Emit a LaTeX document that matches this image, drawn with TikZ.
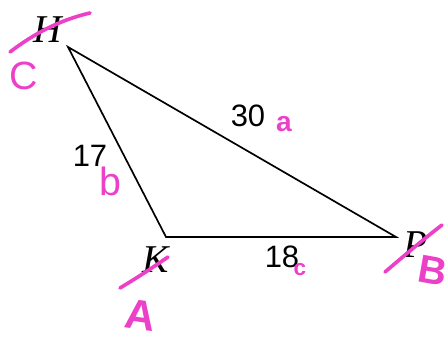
\documentclass[tikz,border=0pt]{standalone}
\usepackage{fontspec}
\setsansfont{Liberation Sans}
\newfontfamily\vertfont{Liberation Serif}
\usepackage{xcolor}
\usetikzlibrary{positioning,calc}
\definecolor{pen}{RGB}{236,64,200}

\begin{document}
\begin{tikzpicture}[x=0.025cm, y=-0.025cm,
  vlab/.style={font=\vertfont\itshape\fontsize{28}{28}\selectfont},
  slab/.style={font=\sffamily\fontsize{22}{22}\selectfont},
  hand/.style={pen, inner sep=0pt},
  penmark/.style={pen, line width=2.6pt, line cap=round}]
  \useasboundingbox (0,0) rectangle (448,339);
  \coordinate (H) at (68,47);
  \coordinate (K) at (166,237);
  \coordinate (P) at (396,237);
  \draw[line width=1.2pt, line join=miter] (H)--(K)--(P)--cycle;

  \node[vlab] (hl) at (48,30) {H};
  \node[vlab] (kl) at (156,260) {K};
  \node[vlab] (pl) at (416,245) {P};

  \node[slab] (hp) at (248,116) {30};
  \node[slab] (hk) at (90,156) {17};
  \node[slab] (kp) at (282,257) {18};

  % pen marks
  \draw[penmark] (10,52) .. controls (35,33) and (60,20) .. (90,13);
  \draw[penmark] (120,288) .. controls (140,276) and (155,266) .. (168,257);
  \draw[penmark] (385,272) .. controls (405,255) and (425,238) .. (442,225);
  \node[hand, font=\sffamily\fontsize{28}{28}\selectfont] (cc) at (24,76) {C};
  \node[hand, font=\sffamily\bfseries\fontsize{30}{30}\selectfont, rotate=-8] (ca) at (141,315) {A};
  \node[hand, font=\sffamily\bfseries\fontsize{28}{28}\selectfont, rotate=-10] (cb) at (433,271) {B};
  \node[hand, font=\sffamily\bfseries\fontsize{20}{20}\selectfont] (sa) at (284,124) {a};
  \node[hand, font=\sffamily\fontsize{28}{28}\selectfont] (sb) at (110,181) {b};
  \node[hand, font=\sffamily\bfseries\fontsize{16}{16}\selectfont] (sc) at (300,270) {c};
\end{tikzpicture}
\end{document}
